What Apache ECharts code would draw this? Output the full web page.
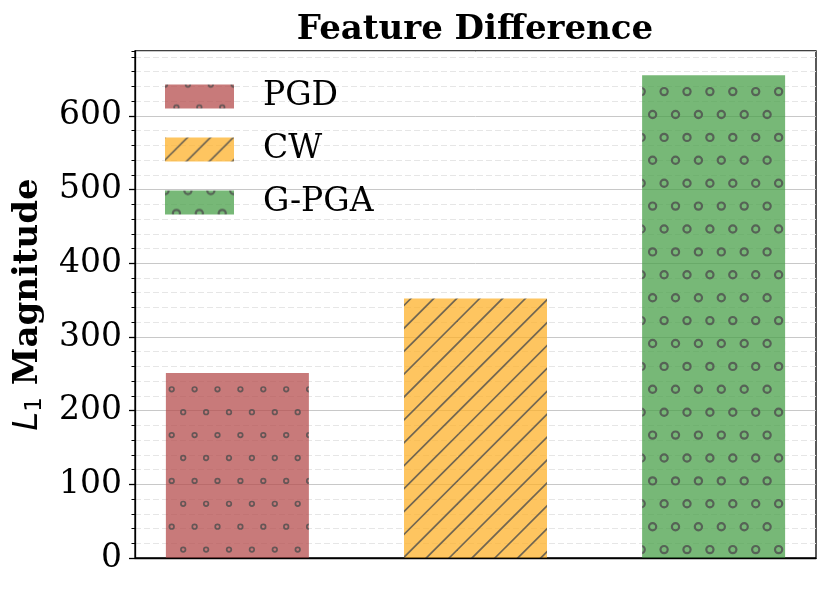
<!DOCTYPE html>
<html><head><meta charset="utf-8">
<script src="https://cdn.jsdelivr.net/npm/echarts@6/dist/echarts.min.js"></script>
<style>html,body{margin:0;padding:0;background:#fff}#c{width:830px;height:593px}</style>
</head><body><div id="c"></div>
<script>
// ---- data ----
const categories = ['PGD', 'CW', 'G-PGA'];
const positions = [0, 1, 2];
const values = [251, 352, 655];
const yTickValues = [0, 100, 200, 300, 400, 500, 600];

// ---- hatch tiles (style only) ----
const HATCH = 'rgba(78,78,78,0.8)';
function makeTile(fill, kind) {
  const S = 229, P = 22.9;
  const c = document.createElement('canvas');
  c.width = S; c.height = S;
  const g = c.getContext('2d');
  g.fillStyle = fill; g.fillRect(0, 0, S, S);
  g.strokeStyle = HATCH;
  if (kind === 'line') {
    g.lineWidth = 1.7;
    for (let k = -2; k <= 24; k++) {
      const s = k * P - 0.5;
      g.beginPath(); g.moveTo(s + 5, -5); g.lineTo(s - S - 5, S + 5); g.stroke();
    }
  } else {
    const r = kind === 'small' ? 2.3 : 3.6;
    g.lineWidth = kind === 'small' ? 1.7 : 2.2;
    for (let row = -1; row <= 11; row++) {
      const y = row * P;
      const x0 = (Math.abs(row) % 2 === 1) ? 11.4 : 0;
      for (let col = -1; col <= 11; col++) {
        const x = x0 + col * P;
        g.beginPath(); g.arc(x, y, r, 0, Math.PI * 2); g.stroke();
      }
    }
  }
  return c;
}
const tiles = [
  makeTile('rgba(182,78,78,0.75)', 'small'),
  makeTile('rgba(254,178,43,0.75)', 'line'),
  makeTile('rgba(74,160,74,0.75)', 'big')
];

const chart = echarts.init(document.getElementById('c'), null, {renderer: 'canvas'});
const serif = 'DejaVu Serif';
chart.setOption({
  animation: false,
  title: {
    text: 'Feature Difference', left: 475, top: 13, textAlign: 'center', padding: 0,
    textStyle: {fontFamily: serif, fontWeight: 'bold', fontSize: 34, color: '#000'}
  },
  grid: {left: 135, right: 14, top: 51, bottom: 35, show: true, borderColor: '#000', borderWidth: 1.3, backgroundColor: 'transparent'},
  legend: {
    orient: 'vertical', left: 165, top: 80, padding: 0,
    itemWidth: 69, itemHeight: 24, itemGap: 20, icon: 'rect',
    itemStyle: {borderWidth: 0},
    textStyle: {fontFamily: serif, fontSize: 33, color: '#000', lineHeight: 24, padding: [0, 0, 0, 24]},
    data: categories
  },
  xAxis: {
    type: 'value', min: -0.43, max: 2.43, z: 5,
    axisLabel: {show: false}, axisTick: {show: false}, splitLine: {show: false},
    axisLine: {show: true, onZero: false, lineStyle: {color: '#000', width: 1.3}}
  },
  yAxis: [
    {
      type: 'value', min: 0, max: 688, interval: 100, position: 'left', z: 1,
      name: '{it|L}{sub|1}{b| Magnitude}', nameLocation: 'middle', nameGap: 88, nameRotate: 90,
      nameTextStyle: {
        fontFamily: serif, fontSize: 34, fontWeight: 'bold', color: '#000',
        rich: {
          it: {fontFamily: 'DejaVu Sans', fontStyle: 'italic', fontWeight: 'normal', fontSize: 34, color: '#000'},
          sub: {fontFamily: 'DejaVu Sans', fontWeight: 'normal', fontSize: 23, color: '#000', padding: [14, 0, 0, 0]},
          b: {fontFamily: serif, fontWeight: 'bold', fontSize: 34, color: '#000'}
        }
      },
      axisLine: {show: true, onZero: false, lineStyle: {color: '#000', width: 1.3}},
      axisTick: {show: true, length: 6, lineStyle: {color: '#000', width: 1.3}},
      axisLabel: {
        fontFamily: serif, fontSize: 33, color: '#000', margin: 13, showMaxLabel: false,
        formatter: v => (yTickValues.indexOf(v) >= 0 ? String(v) : '')
      },
      splitLine: {show: true, lineStyle: {color: '#c8c8c8', width: 1}}
    },
    {
      type: 'value', min: 0, max: 688, interval: 20, position: 'left', z: 0,
      axisLine: {show: false, onZero: false},
      axisTick: {show: true, length: 3.5, lineStyle: {color: '#000', width: 1}},
      axisLabel: {show: false},
      splitLine: {show: true, lineStyle: {color: '#e6e6e6', width: 1, type: [6, 3]}}
    }
  ],
  series: categories.map((name, i) => ({
    name, type: 'bar', stack: 'all', barWidth: 143,
    data: [[positions[i], values[i]]],
    itemStyle: {color: {image: tiles[i], repeat: 'repeat'}, borderWidth: 0}
  }))
});
</script></body></html>
